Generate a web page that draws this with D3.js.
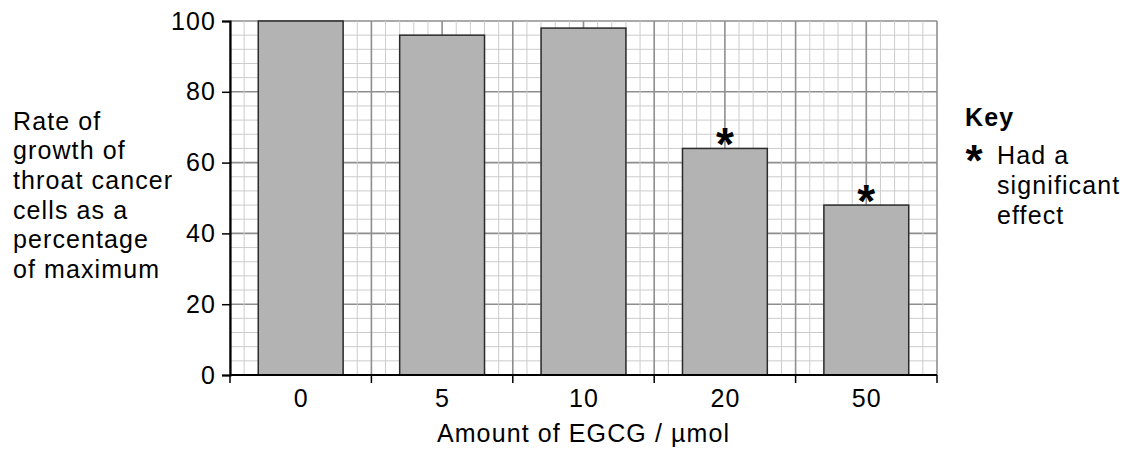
<!DOCTYPE html>
<html>
<head>
<meta charset="utf-8">
<script src="https://cdn.jsdelivr.net/npm/d3@7"></script>
<style>
  body { margin: 0; background: #fff; }
  svg { display: block; font-family: "Liberation Sans", Arial, sans-serif; }
  svg text { letter-spacing: 1.1px; }
</style>
</head>
<body>
<svg id="chart" width="1132" height="449"></svg>
<script>
// data
const categories = ["0", "5", "10", "20", "50"];
const growth = [100, 96, 98, 64, 48];
const significant = [false, false, false, true, true];
const yTicks = [0, 20, 40, 60, 80, 100];
const yTitleLines = ["Rate of", "growth of", "throat cancer", "cells as a", "percentage", "of maximum"];
const keyLines = ["Had a", "significant", "effect"];

const plotLeft = 230, plotRight = 937, plotTop = 21, plotBottom = 375;

const svg = d3.select("#chart");

const x = d3.scaleBand().domain(categories).range([plotLeft, plotRight]).padding(0);
const y = d3.scaleLinear().domain([0, 100]).range([plotBottom, plotTop]);
// grid in small squares: 10 per category column
const gx = d3.scaleLinear().domain([0, categories.length * 10]).range([plotLeft, plotRight]);

// graph paper
const grid = svg.append("g");
grid.selectAll("line.hmin")
    .data(d3.range(0, 101, 4))
    .join("line")
    .attr("x1", plotLeft).attr("x2", plotRight)
    .attr("y1", d => y(d)).attr("y2", d => y(d))
    .attr("stroke", d => d % 20 === 0 ? "#8e8e8e" : "#cccccc")
    .attr("stroke-width", d => d % 20 === 0 ? 1.6 : 1);
grid.selectAll("line.vmin")
    .data(d3.range(0, categories.length * 10 + 1))
    .join("line")
    .attr("x1", d => gx(d)).attr("x2", d => gx(d))
    .attr("y1", plotTop).attr("y2", plotBottom)
    .attr("stroke", d => d % 5 === 0 ? "#8e8e8e" : "#cccccc")
    .attr("stroke-width", d => d % 5 === 0 ? 1.6 : 1);

// bars
svg.append("g")
    .selectAll("rect")
    .data(categories)
    .join("rect")
    .attr("x", d => x(d) + x.bandwidth() * 0.2)
    .attr("width", x.bandwidth() * 0.6)
    .attr("y", (d, i) => y(growth[i]))
    .attr("height", (d, i) => y(0) - y(growth[i]))
    .attr("fill", "#b3b3b3")
    .attr("stroke", "#2b2b2b")
    .attr("stroke-width", 1.5);

// stars for significant results
svg.append("g")
    .selectAll("text")
    .data(categories.filter((d, i) => significant[i]))
    .join("text")
    .attr("x", d => x(d) + x.bandwidth() / 2)
    .attr("y", d => y(growth[categories.indexOf(d)]) + 12)
    .attr("text-anchor", "middle")
    .attr("font-size", 46)
    .attr("font-weight", "bold")
    .style("letter-spacing", "0px")
    .text("*");

// y axis
const yAxis = svg.append("g")
    .attr("transform", `translate(${plotLeft},0)`)
    .call(d3.axisLeft(y).tickValues(yTicks).tickSize(8).tickPadding(6));
yAxis.select(".domain").attr("stroke", "#000").attr("stroke-width", 2.2);
yAxis.selectAll(".tick line").attr("stroke", "#000").attr("stroke-width", 1.5);
yAxis.selectAll(".tick text").attr("font-size", 25).attr("fill", "#000")
    .attr("font-family", "Liberation Sans, Arial, sans-serif");

// x axis: ticks sit on the column boundaries, labels in the middle
const xAxis = svg.append("g").attr("transform", `translate(0,${plotBottom})`);
xAxis.append("line")
    .attr("x1", plotLeft).attr("x2", plotRight)
    .attr("stroke", "#000").attr("stroke-width", 2.2);
xAxis.selectAll("line.tk")
    .data(d3.range(categories.length + 1))
    .join("line")
    .attr("x1", d => gx(d * 10)).attr("x2", d => gx(d * 10))
    .attr("y1", 0).attr("y2", 8)
    .attr("stroke", "#000").attr("stroke-width", 1.5);
xAxis.selectAll("text")
    .data(categories)
    .join("text")
    .attr("x", d => x(d) + x.bandwidth() / 2 + 0.5)
    .attr("y", 32)
    .attr("text-anchor", "middle")
    .attr("font-size", 25)
    .text(d => d);

svg.append("text")
    .attr("x", (plotLeft + plotRight) / 2)
    .attr("y", 442)
    .attr("text-anchor", "middle")
    .attr("font-size", 25)
    .text("Amount of EGCG / µmol");

// y title
svg.append("text")
    .attr("font-size", 25)
    .selectAll("tspan")
    .data(yTitleLines)
    .join("tspan")
    .attr("x", 13)
    .attr("y", (d, i) => 129.5 + i * 29.7)
    .text(d => d);

// key
const key = svg.append("g");
key.append("text")
    .attr("x", 965).attr("y", 126)
    .attr("font-size", 25).attr("font-weight", "bold")
    .text("Key");
key.append("text")
    .attr("x", 974).attr("y", 176)
    .attr("text-anchor", "middle")
    .attr("font-size", 44).attr("font-weight", "bold")
    .style("letter-spacing", "0px")
    .text("*");
key.append("text")
    .attr("font-size", 25)
    .selectAll("tspan")
    .data(keyLines)
    .join("tspan")
    .attr("x", 997)
    .attr("y", (d, i) => 164 + i * 30)
    .text(d => d);
</script>
</body>
</html>
